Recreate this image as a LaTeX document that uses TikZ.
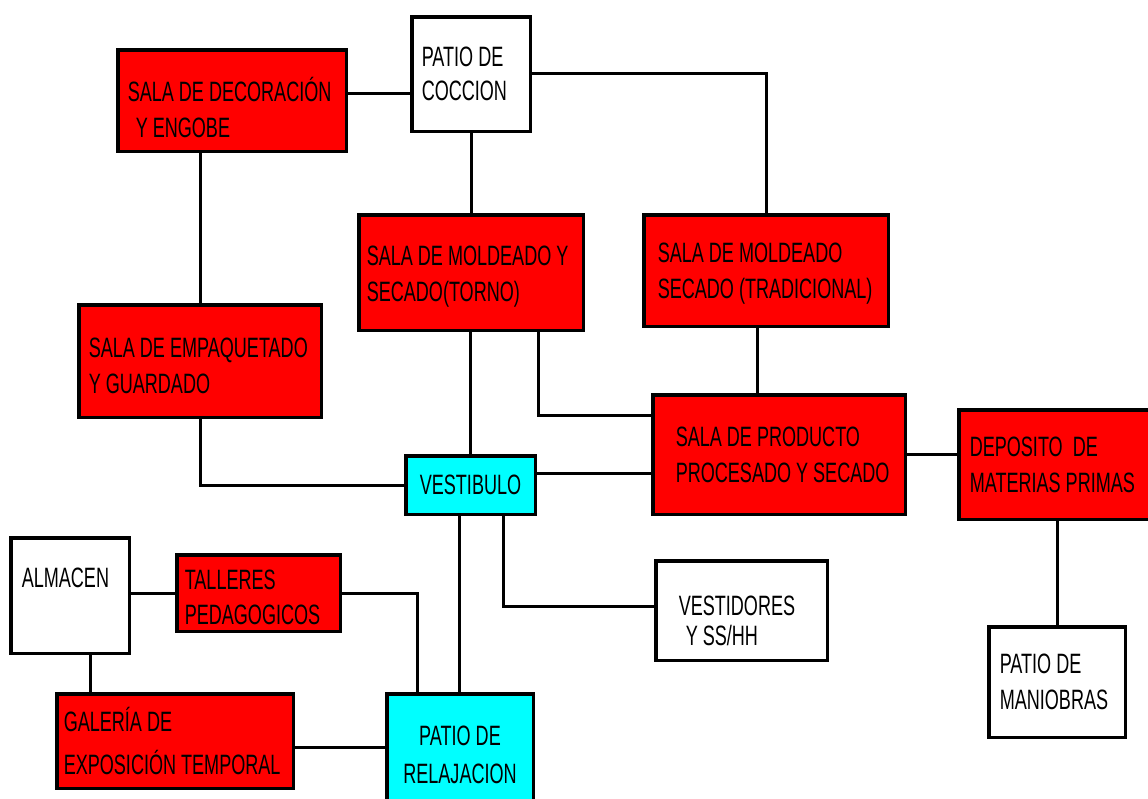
\documentclass[tikz,border=0pt]{standalone}
\usepackage{fontspec}
\newfontfamily\roomfont[FakeStretch=0.645]{Liberation Sans}
\definecolor{roomred}{RGB}{255,0,0}
\definecolor{roomcyan}{RGB}{0,255,255}

\begin{document}
\begin{tikzpicture}[
    x=1pt, y=-1pt,
    room/.style={rectangle, draw=black, line width=3.5pt, anchor=north west, inner xsep=0pt, inner ysep=0pt, align=flush left,
        font={\roomfont\fontsize{28}{36}\selectfont\fontdimen2\font=5pt\relax}},
    redroom/.style={room, fill=roomred},
    whiteroom/.style={room, fill=white},
    cyanroom/.style={room, fill=roomcyan, align=flush center},
    lskip/.style={execute at begin node={\leftskip=#1\relax}},
    tall/.style={execute at begin node={\rule{0pt}{#1}}},
    link/.style={line width=3pt}
]
    \path[use as bounding box, fill=white] (0,0) rectangle (1148,798);
    \clip (0,0) rectangle (1148,798);

    % Zona de produccion
    \node[redroom, text width=228.5pt, minimum height=101.5pt, lskip=10pt, tall=39pt] (decor) at (116,48) {SALA DE DECORACI\smash{Ó}N\\\hspace*{8pt}Y ENGOBE};
    \node[whiteroom, text width=118.5pt, minimum height=114.5pt, lskip=10pt] (coccion) at (410,15) {PATIO DE\\[-2pt]COCCION};
    \node[redroom, text width=224.5pt, minimum height=115.5pt, lskip=8pt, tall=27pt] (torno) at (357,213) {SALA DE MOLDEADO Y\\SECADO(TORNO)};
    \node[redroom, text width=244.5pt, minimum height=111.5pt, lskip=14pt, tall=25pt] (tradic) at (642,213) {SALA DE MOLDEADO\\SECADO (TRADICIONAL)};
    \node[redroom, text width=242.5pt, minimum height=112.5pt, lskip=10pt, tall=30pt] (empaq) at (77,303) {SALA DE EMPAQUETADO\\Y GUARDADO};
    \node[redroom, text width=252.5pt, minimum height=119.5pt, lskip=23pt] (producto) at (651,393) {SALA DE PRODUCTO\\PROCESADO Y SECADO};
    \node[redroom, text width=199.5pt, minimum height=109.5pt, lskip=11pt] (deposito) at (957,408) {DEPOSITO~ DE\\MATERIAS PRIMAS};
    \node[whiteroom, text width=136.5pt, minimum height=110.5pt, lskip=11pt] (maniobras) at (987,625) {PATIO DE\\MANIOBRAS};

    % Zona publica
    \node[cyanroom, text width=129.5pt, minimum height=58.5pt] (vestibulo) at (404,454) {VESTIBULO};
    \node[whiteroom, text width=171.5pt, minimum height=99.5pt, lskip=23pt, tall=40pt] (vestidores) at (654,559) {VESTIDORES\\[-6pt]\hspace*{7pt}Y SS/HH};
    \node[whiteroom, text width=118.5pt, minimum height=115.5pt, lskip=11pt] (almacen) at (9,536) {ALMACEN\\~};
    \node[redroom, text width=163.5pt, minimum height=76.5pt, lskip=8pt, tall=29pt] (talleres) at (175,553) {TALLERES\\[-1pt]PEDAGOGICOS};
    \node[redroom, text width=236.5pt, minimum height=94.5pt, lskip=7pt, tall=25pt] (galeria) at (55,692) {GALER\smash{Í}A DE\\[7pt]EXPOSICIÓN TEMPORAL};
    \node[cyanroom, text width=146.5pt, minimum height=121.5pt] (relajacion) at (385,692) {PATIO DE\\[2pt]RELAJACION};

    % Conexiones
    \draw[link] (decor.east |- 0,93) -- (coccion.west |- 0,93);
    \draw[link] (coccion.east |- 0,73) -| (tradic.north);
    \draw[link] (coccion.south) -- (torno.north);
    \draw[link] (empaq.north |- decor.south) -- (empaq.north);
    \draw[link] (empaq.south) |- (vestibulo.west);
    \draw[link] (vestibulo.north |- torno.south) -- (vestibulo.north);
    \draw[link] (torno.south -| 538,0) |- (producto.west |- 0,415);
    \draw[link] (tradic.south -| 757,0) -- (producto.north -| 757,0);
    \draw[link] (vestibulo.east |- 0,473) -- (producto.west |- 0,473);
    \draw[link] (producto.east) -- (producto.east -| deposito.west);
    \draw[link] (maniobras.north |- deposito.south) -- (maniobras.north);
    \draw[link] (vestibulo.south -| 503,0) |- (vestidores.west |- 0,606);
    \draw[link] (vestibulo.south -| 459,0) -- (relajacion.north -| 459,0);
    \draw[link] (talleres.west -| almacen.east) -- (talleres.west);
    \draw[link] (talleres.east) -| (relajacion.north -| 417,0);
    \draw[link] (almacen.south -| 90,0) -- (galeria.north -| 90,0);
    \draw[link] (galeria.east |- 0,747) -- (relajacion.west |- 0,747);
\end{tikzpicture}
\end{document}
